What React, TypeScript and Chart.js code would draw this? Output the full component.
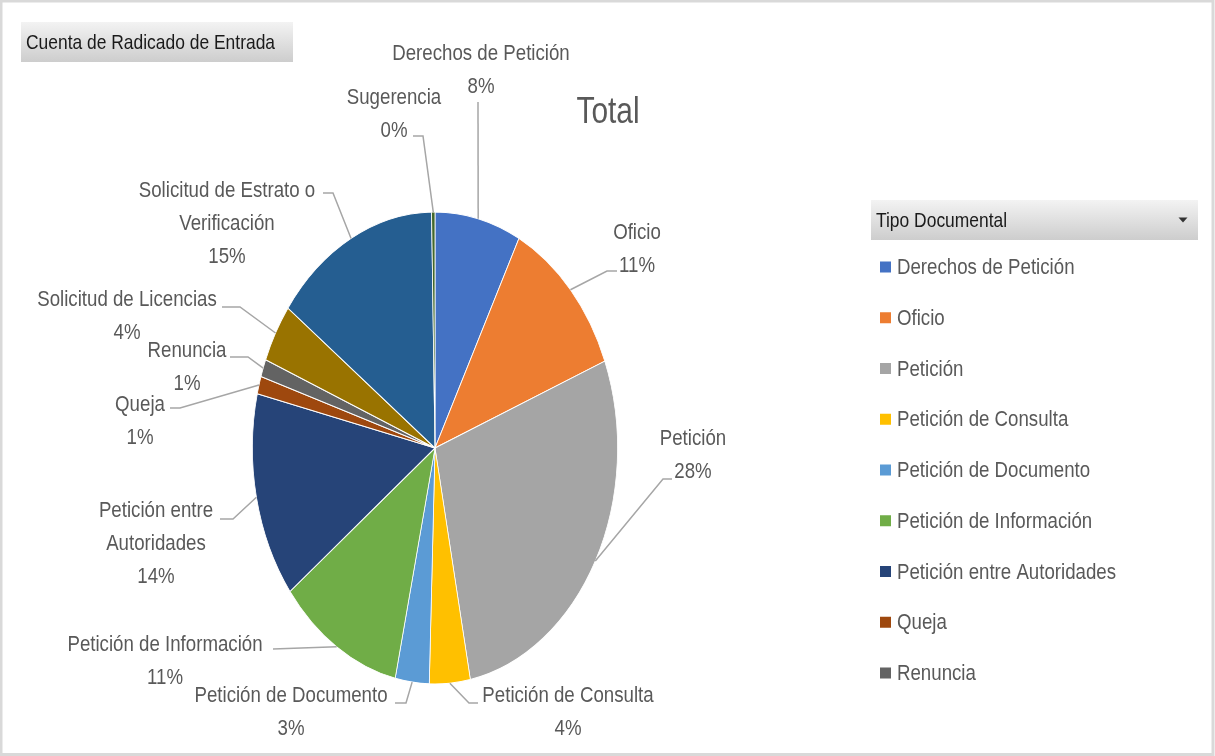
import React, { useEffect, useRef } from "react";
import { Chart, registerables } from "chart.js";

Chart.register(...registerables);

// ---------- data ----------
const CATEGORIES = [
  "Derechos de Petición",
  "Oficio",
  "Petición",
  "Petición de Consulta",
  "Petición de Documento",
  "Petición de Información",
  "Petición entre Autoridades",
  "Queja",
  "Renuncia",
  "Solicitud de Licencias",
  "Solicitud de Estrato o Verificación",
  "Sugerencia",
];
const VALUES = [7.6, 11.4, 27.9, 3.6, 3.0, 11.1, 14.1, 1.2, 1.2, 4.0, 14.6, 0.3];
const COLORS = [
  "#4472C4",
  "#ED7D31",
  "#A5A5A5",
  "#FFC000",
  "#5B9BD5",
  "#70AD47",
  "#264478",
  "#9E480E",
  "#636363",
  "#997300",
  "#255E91",
  "#43682B",
];
const CHART_TITLE = "Total";
const VALUE_FIELD = "Cuenta de Radicado de Entrada";
const LEGEND_FIELD = "Tipo Documental";

// ---------- layout ----------
const W = 1215;
const H = 756;
const FONT = "'Liberation Sans', Arial, sans-serif";
const NARROW = 0.83;
const PIE_RX = 183;
const PIE_RY = 236.5;
const SY = PIE_RY / PIE_RX;
const LINE_H = 33;

type LabelPos = {
  x: number;
  y: number;
  wrap: number;
  elbow: [number, number];
  tail?: [number, number];
};

const LABEL_LAYOUT: LabelPos[] = [
  { x: 481, y: 53, wrap: 400, elbow: [478, 102] },
  { x: 637, y: 232, wrap: 400, elbow: [607, 271], tail: [617, 271] },
  { x: 693, y: 438, wrap: 400, elbow: [663, 479], tail: [672, 479] },
  { x: 568, y: 695, wrap: 400, elbow: [469, 703], tail: [478, 703] },
  { x: 291, y: 695, wrap: 400, elbow: [406, 703], tail: [395, 703] },
  { x: 165, y: 644, wrap: 400, elbow: [273, 649] },
  { x: 156, y: 510, wrap: 140, elbow: [233, 519], tail: [220, 519] },
  { x: 140, y: 404, wrap: 400, elbow: [180, 408], tail: [170, 408] },
  { x: 187, y: 350, wrap: 400, elbow: [248, 357], tail: [230, 357] },
  { x: 127, y: 299, wrap: 400, elbow: [240, 307], tail: [222, 307] },
  { x: 227, y: 190, wrap: 200, elbow: [333, 193], tail: [323, 193] },
  { x: 394, y: 97, wrap: 400, elbow: [423, 136], tail: [413, 136] },
];

function narrowText(
  ctx: CanvasRenderingContext2D,
  text: string,
  x: number,
  y: number,
  align: CanvasTextAlign
) {
  ctx.save();
  ctx.translate(x, y);
  ctx.scale(NARROW, 1);
  ctx.textAlign = align;
  ctx.textBaseline = "middle";
  ctx.fillText(text, 0, 0);
  ctx.restore();
}

function wrapText(ctx: CanvasRenderingContext2D, text: string, maxW: number): string[] {
  const words = text.split(" ");
  const lines: string[] = [];
  let cur = "";
  for (const w of words) {
    const t = cur ? cur + " " + w : w;
    if (cur && ctx.measureText(t).width * NARROW > maxW) {
      lines.push(cur);
      cur = w;
    } else cur = t;
  }
  if (cur) lines.push(cur);
  return lines;
}

function fieldButton(
  ctx: CanvasRenderingContext2D,
  x: number,
  y: number,
  w: number,
  h: number,
  text: string,
  arrow: boolean
) {
  const g = ctx.createLinearGradient(0, y, 0, y + h);
  g.addColorStop(0, "#f3f3f3");
  g.addColorStop(1, "#cdcdcd");
  ctx.fillStyle = g;
  ctx.fillRect(x, y, w, h);
  ctx.fillStyle = "#1a1a1a";
  ctx.font = `21px ${FONT}`;
  narrowText(ctx, text, x + 5, y + h / 2 + 1, "left");
  if (arrow) {
    const ax = x + w - 15;
    const ay = y + h / 2;
    ctx.beginPath();
    ctx.moveTo(ax - 4.5, ay - 2.5);
    ctx.lineTo(ax + 4.5, ay - 2.5);
    ctx.lineTo(ax, ay + 2.5);
    ctx.closePath();
    ctx.fillStyle = "#333";
    ctx.fill();
  }
}

const ellipsePlugin = {
  id: "ellipsePie",
  beforeDatasetsDraw(chart: any) {
    const ctx = chart.ctx;
    const arc = chart.getDatasetMeta(0).data[0];
    ctx.save();
    ctx.translate(arc.x, arc.y);
    ctx.scale(1, SY);
    ctx.translate(-arc.x, -arc.y);
  },
  afterDatasetsDraw(chart: any) {
    chart.ctx.restore();
  },
};

const decorPlugin = {
  id: "decor",
  afterDraw(chart: any) {
    const ctx: CanvasRenderingContext2D = chart.ctx;
    ctx.save();

    // outer border
    ctx.strokeStyle = "#d9d9d9";
    ctx.lineWidth = 3;
    ctx.strokeRect(1, 1, W - 3, H - 2.5);

    // field buttons
    fieldButton(ctx, 21, 22, 272, 40, VALUE_FIELD, false);
    fieldButton(ctx, 871, 200, 327, 40, LEGEND_FIELD, true);

    // title
    ctx.fillStyle = "#595959";
    ctx.font = `36px ${FONT}`;
    narrowText(ctx, CHART_TITLE, 608, 113, "center");

    // legend
    const labels: string[] = chart.data.labels;
    const colors: string[] = chart.data.datasets[0].backgroundColor;
    ctx.save();
    ctx.beginPath();
    ctx.rect(860, 245, 350, 455);
    ctx.clip();
    ctx.font = `22.5px ${FONT}`;
    labels.forEach((lab, i) => {
      const cy = 267 + i * 50.75;
      ctx.fillStyle = colors[i];
      ctx.fillRect(880, cy - 5.5, 11, 11);
      ctx.fillStyle = "#595959";
      narrowText(ctx, lab, 897, cy + 1, "left");
    });
    ctx.restore();

    // data labels with leader lines
    const meta = chart.getDatasetMeta(0);
    const data: number[] = chart.data.datasets[0].data;
    const total = data.reduce((a, b) => a + b, 0);
    ctx.font = `22.5px ${FONT}`;
    meta.data.forEach((arc: any, i: number) => {
      const L = LABEL_LAYOUT[i];
      if (!L) return;
      const mid = (arc.startAngle + arc.endAngle) / 2;
      const R = arc.outerRadius;
      const px = arc.x + R * Math.cos(mid);
      const py = arc.y + R * Math.sin(mid) * SY;
      ctx.strokeStyle = "#a6a6a6";
      ctx.lineWidth = 1.5;
      ctx.beginPath();
      ctx.moveTo(px, py);
      ctx.lineTo(L.elbow[0], L.elbow[1]);
      if (L.tail) ctx.lineTo(L.tail[0], L.tail[1]);
      ctx.stroke();

      const lines = wrapText(ctx, labels[i], L.wrap);
      lines.push(Math.round((data[i] / total) * 100) + "%");
      ctx.fillStyle = "#595959";
      lines.forEach((t, k) => narrowText(ctx, t, L.x, L.y + k * LINE_H + 1, "center"));
    });

    ctx.restore();
  },
};

export default function App() {
  const ref = useRef<HTMLCanvasElement | null>(null);
  useEffect(() => {
    if (!ref.current) return;
    const chart = new Chart(ref.current, {
      type: "pie",
      data: {
        labels: CATEGORIES,
        datasets: [
          {
            data: VALUES,
            backgroundColor: COLORS,
            borderColor: "#ffffff",
            borderWidth: 0.8,
          },
        ],
      },
      options: {
        responsive: false,
        devicePixelRatio: 1,
        animation: false,
        events: [],
        layout: {
          padding: { left: 252, right: W - 618, top: 448 - PIE_RX, bottom: H - (448 + PIE_RX) },
        },
        plugins: {
          legend: { display: false },
          tooltip: { enabled: false },
          title: { display: false },
        },
      },
      plugins: [ellipsePlugin, decorPlugin],
    } as any);
    return () => chart.destroy();
  }, []);
  return (
    <div style={{ position: "fixed", left: 0, top: 0, width: W, height: H, background: "#fff" }}>
      <canvas ref={ref} width={W} height={H} style={{ display: "block", width: W, height: H }} />
    </div>
  );
}
